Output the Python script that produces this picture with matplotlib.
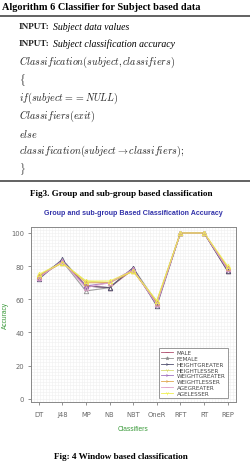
import numpy as np
import matplotlib
matplotlib.use("Agg")
import matplotlib.pyplot as plt
from matplotlib.lines import Line2D

plt.rcParams['mathtext.fontset'] = 'cm'

classifiers = ["DT", "J48", "MP", "NB", "NBT", "OneR", "RFT", "RT", "REP"]
series_names = ["MALE", "FEMALE", "HEIGHTGREATER", "HEIGHTLESSER",
                "WEIGHTGREATER", "WEIGHTLESSER", "AGEGREATER", "AGELESSER"]
male          = [73, 83, 68, 67, 78, 57, 100, 100, 77]
female        = [74, 83, 65, 67, 79, 58, 100, 100, 77]
heightgreater = [72, 84, 68, 67, 79, 56, 100, 100, 77]
heightlesser  = [74, 82, 71, 70, 77, 59, 100, 100, 79]
weightgreater = [73, 83, 68, 70, 78, 57, 100, 100, 78]
weightlesser  = [74, 82, 70, 70, 77, 58, 100, 100, 79]
agegreater    = [73, 83, 67, 70, 78, 57, 100, 100, 78]
agelesser     = [75, 82, 71, 71, 77, 59, 100, 100, 80]
series_values = [male, female, heightgreater, heightlesser,
                 weightgreater, weightlesser, agegreater, agelesser]
series_colors = ["#b05070", "#909090", "#505070", "#d8d870",
                 "#a070c0", "#e0a850", "#e0a0c8", "#f0f050"]
series_markers = ["_", "*", "4", "1", "4", "4", "_", "1"]

W, H = 250, 464
fig = plt.figure(figsize=(W / 100, H / 100), dpi=100)

def fx(x):
    return x / W

def fy(y):
    return 1 - y / H

serif = "Liberation Serif"
# Header
fig.text(fx(2), fy(7), "Algorithm 6 Classifier for Subject based data",
         family=serif, weight="bold", fontsize=7.4, va="center", ha="left")
fig.add_artist(Line2D([0, 1], [fy(16.5), fy(16.5)], color="#555555", lw=1.3))

lines_y = [27, 44, 62, 80, 98, 116, 134, 151, 169]
x0 = 19
fig.text(fx(x0), fy(27), "INPUT:", family=serif, fontsize=6.6, va="center", weight="bold", color="#222222")
fig.text(fx(53), fy(27), "Subject data values", family=serif, style="italic", fontsize=7, va="center")
fig.text(fx(x0), fy(44), "INPUT:", family=serif, fontsize=6.6, va="center", weight="bold", color="#222222")
fig.text(fx(53), fy(44), "Subject classification accuracy", family=serif, style="italic", fontsize=7, va="center")
code = [r"$Classification(subject, classifiers)$",
        r"$\{$",
        r"$if(subject == NULL)$",
        r"$Classifiers(exit)$",
        r"$else$",
        r"$classification(subject \rightarrow classifiers);$",
        r"$\}$"]
for t, yy in zip(code, lines_y[2:]):
    fig.text(fx(x0), fy(yy), t, fontsize=7.2, va="center", ha="left", color="#222222")

fig.add_artist(Line2D([0, 1], [fy(182), fy(182)], color="#555555", lw=1.3))
fig.text(fx(121.5), fy(194.5), "Fig3. Group and sub-group based classification",
         family=serif, weight="bold", fontsize=6.6, va="center", ha="center")

# Chart
ax = fig.add_axes([fx(31), fy(403), fx(236) - fx(31), fy(228) - fy(403)])
xpos = np.arange(1, len(classifiers) + 1)
ax.set_xlim(0.68, 9.35)
ax.set_ylim(-2, 103.6)
for xv in np.linspace(0.68, 9.35, 70):
    ax.axvline(xv, color="#f0f0f0", lw=0.4, zorder=0)
for yv in np.arange(-2, 104, 2):
    ax.axhline(yv, color="#f0f0f0", lw=0.4, zorder=0)

handles = []
for name, vals, col, mk in zip(series_names, series_values, series_colors, series_markers):
    ax.plot(xpos, vals, color=col, lw=0.8, alpha=0.85, zorder=2)
    ax.plot(xpos, vals, linestyle="none", marker="^", markersize=3.2,
            markerfacecolor="none", markeredgecolor=col, markeredgewidth=0.6, zorder=3)
    handles.append(Line2D([0], [0], color=col, lw=0.6, marker=mk, markersize=2.5,
                          markeredgewidth=0.5, label=name))

ax.set_xticks(xpos)
ax.set_xticklabels(classifiers)
ax.set_yticks([0, 20, 40, 60, 80, 100])
ax.tick_params(labelsize=4.9, colors="#666666", length=2.5, width=0.5, pad=2.5)
ax.tick_params(axis="x", pad=4)
for s in ax.spines.values():
    s.set_color("#888888")
    s.set_linewidth(0.7)

fig.text(fx(133.5), fy(213.7), "Group and sub-group Based Classification Accuracy",
         family="Liberation Sans", weight="bold", fontsize=5.1, color="#3333aa",
         va="center", ha="center")
fig.text(fx(5), fy(315), "Accuracy", family="Liberation Sans", fontsize=4.8,
         color="#3a9a3a", rotation=90, va="center", ha="center")
fig.text(fx(133), fy(429.5), "Classifiers", family="Liberation Sans", fontsize=4.8,
         color="#3a9a3a", va="center", ha="center")

leg = ax.legend(handles=handles, loc="lower right", bbox_to_anchor=(0.975, 0.005),
                fontsize=4.1, frameon=True, fancybox=False, edgecolor="#888888",
                framealpha=1, handlelength=2.2, handletextpad=0.6,
                labelspacing=0.15, borderpad=0.4)
leg.get_frame().set_linewidth(0.6)
for t in leg.get_texts():
    t.set_color("#444444")

fig.text(fx(121), fy(457), "Fig: 4 Window based classification",
         family=serif, weight="bold", fontsize=6.6, va="center", ha="center")

fig.savefig("out.png", dpi=100)
